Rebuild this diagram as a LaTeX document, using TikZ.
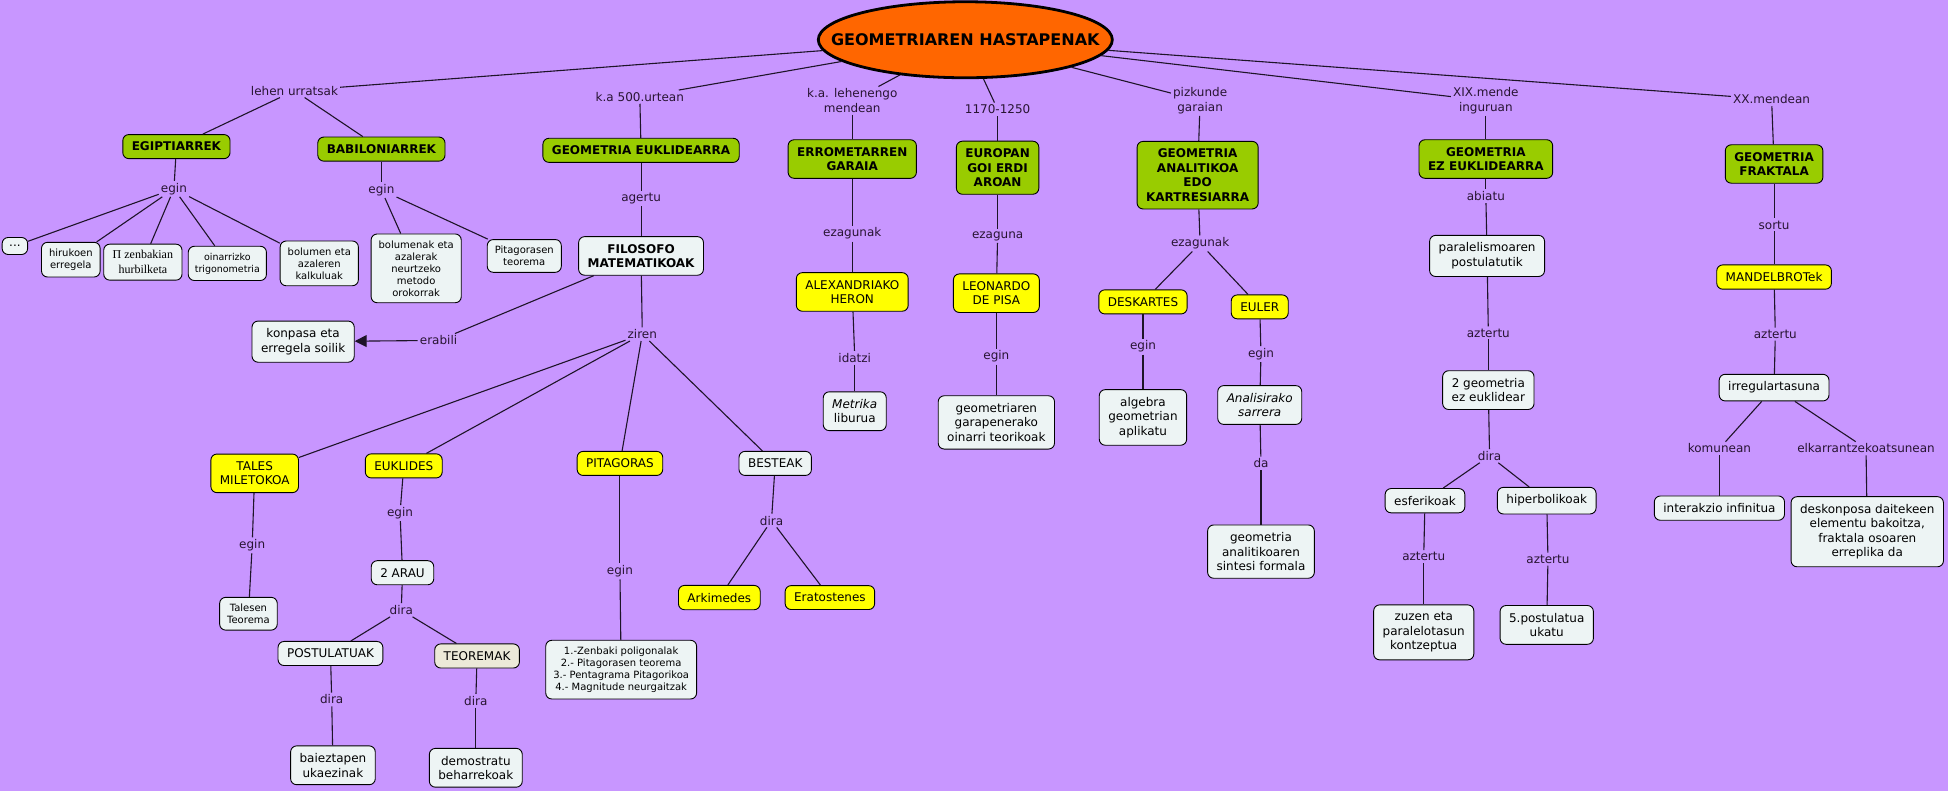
\documentclass[tikz,border=0pt]{standalone}
\usepackage{fontspec}
\setmainfont{DejaVu Sans}
\newfontfamily\serifz{Liberation Serif}
\usetikzlibrary{shapes.geometric,arrows.meta}
\definecolor{bgc}{RGB}{200,150,255}
\definecolor{greenc}{RGB}{153,204,0}
\definecolor{yelc}{RGB}{255,255,0}
\definecolor{whc}{RGB}{237,244,244}
\definecolor{beigec}{RGB}{236,233,216}
\definecolor{orangec}{RGB}{255,102,0}
\definecolor{linkc}{RGB}{40,20,50}
\definecolor{linec}{RGB}{30,20,40}
\tikzset{
  lnk/.style={font=\fontsize{12}{14.5}\selectfont, text=linkc, inner sep=2pt, align=center},
  cbox/.style={draw=black, line width=0.9pt, rounded corners=6pt, align=center,
    inner xsep=9pt, inner ysep=7.5pt, font=\fontsize{12}{14.5}\selectfont},
  gbox/.style={cbox, fill=greenc, font=\fontsize{12}{14.5}\selectfont\bfseries},
  ybox/.style={cbox, fill=yelc},
  wbox/.style={cbox, fill=whc},
  bbox/.style={cbox, fill=beigec},
  smallf/.style={font=\fontsize{10}{12}\selectfont, inner xsep=7.5pt, inner ysep=6.5pt},
  conn/.style={draw=linec, line width=1.1pt},
  titlenode/.style={ellipse, draw=black, line width=2.8pt, fill=orangec,
    minimum width=294pt, minimum height=76pt, inner sep=0pt,
    font=\fontsize{16}{19}\selectfont\bfseries}
}
\begin{document}
\begin{tikzpicture}[x=1.2423pt,y=-1.2423pt]
\fill[bgc] (0,0) rectangle (1568,637);
\useasboundingbox (0,0) rectangle (1568,637);

\node[titlenode] (T) at (777,32) {\makebox[0pt]{GEOMETRIAREN HASTAPENAK}};

% level-1 links
\node[lnk] (l1) at (237,73) {lehen urratsak};
\node[lnk] (l2) at (515,78) {k.a 500.urtean};
\node[lnk] (l3) at (686,81) {k.a. lehenengo\\mendean};
\node[lnk] (l4) at (803,88) {1170-1250};
\node[lnk] (l5) at (966,81) {pizkunde\\garaian};
\node[lnk] (l6) at (1196,81) {XIX.mende\\inguruan};
\node[lnk] (l7) at (1426,80) {XX.mendean};

% green concepts
\node[gbox] (egi) at (142,118) {EGIPTIARREK};
\node[gbox] (bab) at (307,120) {BABILONIARREK};
\node[gbox] (geu) at (516,121) {GEOMETRIA EUKLIDEARRA};
\node[gbox] (err) at (686,128) {ERROMETARREN\\GARAIA};
\node[gbox] (eur) at (803,135) {EUROPAN\\GOI ERDI\\AROAN};
\node[gbox] (ana) at (964,141) {GEOMETRIA\\ANALITIKOA\\EDO\\KARTRESIARRA};
\node[gbox] (ezk) at (1196,128) {GEOMETRIA\\EZ EUKLIDEARRA};
\node[gbox] (fra) at (1428,132) {GEOMETRIA\\FRAKTALA};

\foreach \a/\b in {T/l1,l1/egi,l1/bab,T/l2,l2/geu,T/l3,l3/err,T/l4,l4/eur,T/l5,l5/ana,T/l6,l6/ezk,T/l7,l7/fra}
  \draw[conn] (\a) -- (\b);

% Egiptiarrek
\node[lnk] (e1) at (140,152) {egin};
\node[wbox,inner xsep=7pt,minimum height=17pt] (d1) at (12,198) {...};
\node[wbox,smallf] (d2) at (57,209) {hirukoen\\erregela};
\node[wbox,font=\fontsize{12}{14.5}\selectfont\serifz,inner ysep=6.5pt] (d3) at (115,211) {Π zenbakian\\hurbilketa};
\node[wbox,smallf,font=\fontsize{9.5}{12}\selectfont,inner xsep=6.5pt] (d4) at (183,212) {oinarrizko\\trigonometria};
\node[wbox,smallf] (d5) at (257,212) {bolumen eta\\azaleren\\kalkuluak};
\draw[conn] (egi) -- (e1);
\foreach \b in {d1,d2,d3,d4,d5} \draw[conn] (e1) -- (\b);

% Babiloniarrek
\node[lnk] (b1) at (307,153) {egin};
\node[wbox,smallf] (b2) at (335,216) {bolumenak eta\\azalerak\\neurtzeko\\metodo\\orokorrak};
\node[wbox,smallf] (b3) at (422,206) {Pitagorasen\\teorema};
\draw[conn] (bab) -- (b1);
\draw[conn] (b1) -- (b2);
\draw[conn] (b1) -- (b3);

% Geometria euklidearra
\node[lnk] (g1) at (516,160) {agertu};
\node[wbox,font=\fontsize{12}{14.5}\selectfont\bfseries] (fil) at (516,206) {FILOSOFO\\MATEMATIKOAK};
\node[lnk] (era) at (353,274) {erabili};
\node[wbox] (kon) at (244,275) {konpasa eta\\erregela soilik};
\node[lnk] (zir) at (517,269) {ziren};
\draw[conn] (geu) -- (g1);
\draw[conn] (g1) -- (fil);
\draw[conn] (fil) -- (era);
\draw[conn,-{Triangle[length=12pt,width=12pt]}] (era) -- (kon);
\draw[conn] (fil) -- (zir);

\node[ybox] (tal) at (205,381) {TALES\\MILETOKOA};
\node[ybox] (euk) at (325,375) {EUKLIDES};
\node[ybox] (pit) at (499,373) {PITAGORAS};
\node[wbox] (bes) at (624,373) {BESTEAK};
\foreach \b in {tal,euk,pit,bes} \draw[conn] (zir) -- (\b);

\node[lnk] (t1) at (203,439) {egin};
\node[wbox,smallf] (t2) at (200,494) {Talesen\\Teorema};
\draw[conn] (tal) -- (t1);
\draw[conn] (t1) -- (t2);

\node[lnk] (k1) at (322,413) {egin};
\node[wbox] (k2) at (324,461) {2 ARAU};
\node[lnk] (k3) at (323,491) {dira};
\node[wbox] (pos) at (266,526) {POSTULATUAK};
\node[bbox] (teo) at (384,528) {TEOREMAK};
\node[lnk] (p1) at (267,563) {dira};
\node[wbox] (p2) at (268,616) {baieztapen\\ukaezinak};
\node[lnk] (q1) at (383,564) {dira};
\node[wbox] (q2) at (383,618) {demostratu\\beharrekoak};
\draw[conn] (euk) -- (k1);
\draw[conn] (k1) -- (k2);
\draw[conn] (k2) -- (k3);
\draw[conn] (k3) -- (pos);
\draw[conn] (k3) -- (teo);
\draw[conn] (pos) -- (p1);
\draw[conn] (p1) -- (p2);
\draw[conn] (teo) -- (q1);
\draw[conn] (q1) -- (q2);

\node[lnk] (pi1) at (499,460) {egin};
\node[wbox,smallf] (pi2) at (500,539) {1.-Zenbaki poligonalak\\2.- Pitagorasen teorema\\3.- Pentagrama Pitagorikoa\\4.- Magnitude neurgaitzak};
\draw[conn] (pit) -- (pi1);
\draw[conn] (pi1) -- (pi2);

\node[lnk] (s1) at (621,419) {dira};
\node[ybox] (ark) at (579,481) {Arkimedes};
\node[ybox] (ert) at (668,481) {Eratostenes};
\draw[conn] (bes) -- (s1);
\draw[conn] (s1) -- (ark);
\draw[conn] (s1) -- (ert);

% Errometarren garaia
\node[lnk] (r1) at (686,188) {ezagunak};
\node[ybox] (her) at (686,235) {ALEXANDRIAKO\\HERON};
\node[lnk] (r2) at (688,288) {idatzi};
\node[wbox] (met) at (688,331) {\textit{Metrika}\\liburua};
\draw[conn] (err) -- (r1);
\draw[conn] (r1) -- (her);
\draw[conn] (her) -- (r2);
\draw[conn] (r2) -- (met);

% Europan
\node[lnk] (u1) at (803,190) {ezaguna};
\node[ybox] (leo) at (802,236) {LEONARDO\\DE PISA};
\node[lnk] (u2) at (802,287) {egin};
\node[wbox] (u3) at (802,340) {geometriaren\\garapenerako\\oinarri teorikoak};
\draw[conn] (eur) -- (u1);
\draw[conn] (u1) -- (leo);
\draw[conn] (leo) -- (u2);
\draw[conn] (u2) -- (u3);

% Analitikoa
\node[lnk] (a1) at (966,196) {ezagunak};
\node[ybox] (des) at (920,243) {DESKARTES};
\node[ybox] (eul) at (1014,247) {EULER};
\node[lnk] (a2) at (920,279) {egin};
\node[wbox] (a3) at (920,336) {algebra\\geometrian\\aplikatu};
\node[lnk] (a4) at (1015,285) {egin};
\node[wbox,font=\fontsize{12}{14.5}\selectfont\itshape] (a5) at (1014,326) {Analisirako\\sarrera};
\node[lnk] (a6) at (1015,373) {da};
\node[wbox] (a7) at (1015,444) {geometria\\analitikoaren\\sintesi formala};
\draw[conn] (ana) -- (a1);
\draw[conn] (a1) -- (des);
\draw[conn] (a1) -- (eul);
\draw[conn] (des) -- (a2);
\draw[conn] (a2) -- (a3);
\draw[conn] (eul) -- (a4);
\draw[conn] (a4) -- (a5);
\draw[conn] (a5) -- (a6);
\draw[conn] (a6) -- (a7);

% Ez euklidearra
\node[lnk] (z1) at (1196,158) {abiatu};
\node[wbox] (z2) at (1197,206) {paralelismoaren\\postulatutik};
\node[lnk] (z3) at (1198,268) {aztertu};
\node[wbox] (z4) at (1198,314) {2 geometria\\ez euklidear};
\node[lnk] (z5) at (1199,367) {dira};
\node[wbox] (esf) at (1147,403) {esferikoak};
\node[wbox] (hip) at (1245,403) {hiperbolikoak};
\node[lnk] (z6) at (1146,448) {aztertu};
\node[wbox] (z7) at (1146,509) {zuzen eta\\paralelotasun\\kontzeptua};
\node[lnk] (z8) at (1246,450) {aztertu};
\node[wbox] (z9) at (1245,503) {5.postulatua\\ukatu};
\draw[conn] (ezk) -- (z1);
\draw[conn] (z1) -- (z2);
\draw[conn] (z2) -- (z3);
\draw[conn] (z3) -- (z4);
\draw[conn] (z4) -- (z5);
\draw[conn] (z5) -- (esf);
\draw[conn] (z5) -- (hip);
\draw[conn] (esf) -- (z6);
\draw[conn] (z6) -- (z7);
\draw[conn] (hip) -- (z8);
\draw[conn] (z8) -- (z9);

% Fraktala
\node[lnk] (f1) at (1428,181) {sortu};
\node[ybox] (man) at (1428,223) {MANDELBROTek};
\node[lnk] (f2) at (1429,269) {aztertu};
\node[wbox] (irr) at (1428,312) {irregulartasuna};
\node[lnk] (f3) at (1384,361) {komunean};
\node[lnk] (f4) at (1502,361) {elkarrantzekoatsunean};
\node[wbox] (f5) at (1384,409) {interakzio infinitua};
\node[wbox] (f6) at (1503,428) {deskonposa daitekeen\\elementu bakoitza,\\fraktala osoaren\\erreplika da};
\draw[conn] (fra) -- (f1);
\draw[conn] (f1) -- (man);
\draw[conn] (man) -- (f2);
\draw[conn] (f2) -- (irr);
\draw[conn] (irr) -- (f3);
\draw[conn] (irr) -- (f4);
\draw[conn] (f3) -- (f5);
\draw[conn] (f4) -- (f6);
\end{tikzpicture}
\end{document}
